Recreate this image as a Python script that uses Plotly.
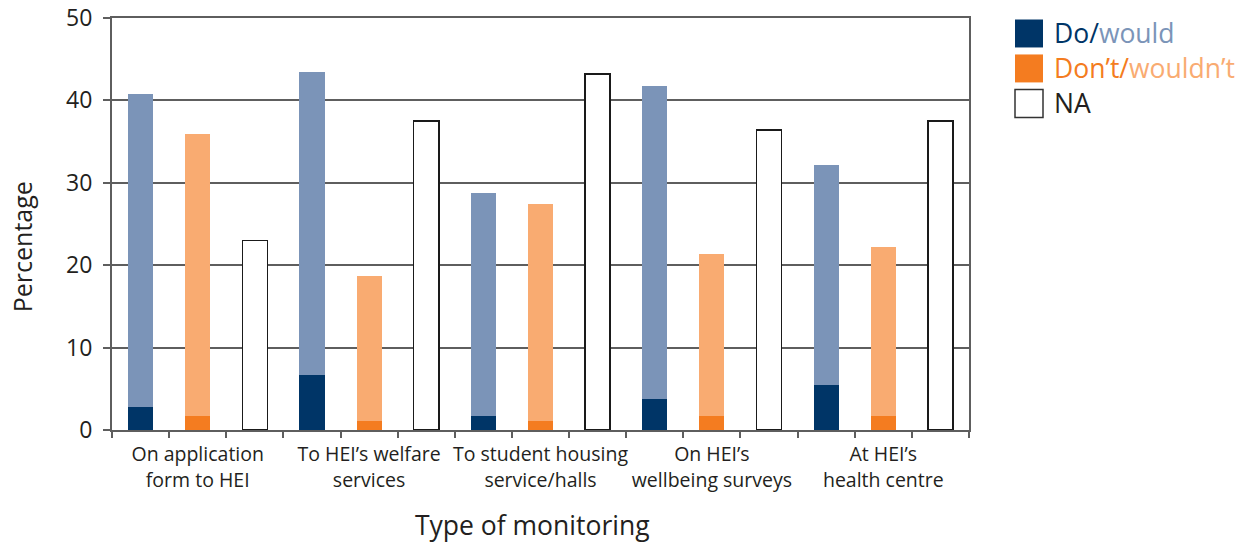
import plotly.graph_objects as go

categories = ["On application<br>form to HEI", "To HEI’s welfare<br>services", "To student housing<br>service/halls",
              "On HEI’s<br>wellbeing surveys", "At HEI’s<br>health centre"]
do_vals = [2.8, 6.7, 1.7, 3.8, 5.5]
would_vals = [38.0, 36.8, 27.1, 37.9, 26.7]
dont_vals = [1.7, 1.1, 1.1, 1.7, 1.7]
wouldnt_vals = [34.2, 17.6, 26.3, 19.6, 20.5]
na_vals = [23.0, 37.5, 43.2, 36.4, 37.5]
y_ticks = [0, 10, 20, 30, 40, 50]

C_DO = "#003567"
C_WOULD = "#7b94b8"
C_DONT = "#f47c20"
C_WOULDNT = "#f9ab71"
FONT = "Open Sans"
TXT = "#231f20"
GRID = "#5e5e5e"

n = len(categories)
x_do = [3 * i for i in range(n)]
x_dont = [3 * i + 1 for i in range(n)]
x_na = [3 * i + 2 for i in range(n)]
BW = 0.44

fig = go.Figure()
fig.add_trace(go.Bar(x=x_do, y=do_vals, width=BW, marker=dict(color=C_DO, line=dict(width=0)), showlegend=False))
fig.add_trace(go.Bar(x=x_do, y=would_vals, width=BW, marker=dict(color=C_WOULD, line=dict(width=0)), showlegend=False))
fig.add_trace(go.Bar(x=x_dont, y=dont_vals, width=BW, marker=dict(color=C_DONT, line=dict(width=0)), showlegend=False))
fig.add_trace(go.Bar(x=x_dont, y=wouldnt_vals, width=BW, marker=dict(color=C_WOULDNT, line=dict(width=0)), showlegend=False))
fig.add_trace(go.Bar(x=x_na, y=na_vals, width=BW, marker=dict(color="white", line=dict(width=1.5, color="#1a1a1a")), showlegend=False))

fig.update_layout(
    barmode="stack",
    width=1248, height=542,
    margin=dict(l=112, r=279, t=18, b=112),
    paper_bgcolor="white", plot_bgcolor="white",
    font=dict(family=FONT, color=TXT),
)
fig.update_xaxes(
    range=[-0.5, 3 * n - 0.5], automargin=False,
    tickmode="array", tickvals=[3 * i + 1 for i in range(n)], ticktext=categories,
    ticks="", showgrid=False,
    tickfont=dict(size=19.5, family=FONT, color=TXT),
    showline=True, linecolor=GRID, linewidth=2, mirror=True,
    minor=dict(tickmode="array", tickvals=[k + 0.5 for k in range(-1, 3 * n)], ticks="outside",
               ticklen=6, tickwidth=1.5, tickcolor=GRID, showgrid=False),
    zeroline=False, ticklabelstandoff=6,
)
fig.update_yaxes(
    range=[0, 50], tickmode="array", tickvals=y_ticks, automargin=False,
    ticks="outside", ticklen=7, tickwidth=1.5, tickcolor=GRID,
    tickfont=dict(size=23, family=FONT, color=TXT),
    showgrid=True, gridcolor=GRID, gridwidth=1.5,
    showline=True, linecolor=GRID, linewidth=2, mirror=True,
    zeroline=False, ticklabelstandoff=6,
)

# axis titles
fig.add_annotation(text="Type of monitoring", xref="paper", yref="paper", x=(532 - 112) / 857, y=0, yshift=-95,
                   showarrow=False, font=dict(size=26.5, family=FONT, color=TXT), xanchor="center", yanchor="middle")
fig.add_annotation(text="Percentage", xref="paper", yref="paper", x=0, xshift=-90, y=(430 - 247) / 412.5,
                   showarrow=False, textangle=-90, font=dict(size=25, family=FONT, color=TXT),
                   xanchor="center", yanchor="middle")

# legend
legend_items = [
    ("<span style='color:%s'>Do/</span><span style='color:%s'>would</span>" % (C_DO, C_WOULD), C_DO, C_DO),
    ("<span style='color:%s'>Don’t/</span><span style='color:%s'>wouldn’t</span>" % (C_DONT, C_WOULDNT), C_DONT, C_DONT),
    ("NA", "white", "#333333"),
]
for i, (label, fill, border) in enumerate(legend_items):
    top = 19 + 35 * i
    fig.add_shape(type="rect", xref="paper", yref="paper",
                  x0=(1015 - 112) / 857, x1=(1043 - 112) / 857,
                  y0=(430 - (top + 28)) / 412.5, y1=(430 - top) / 412.5,
                  fillcolor=fill, line=dict(color=border, width=1.5 if fill == "white" else 0))
    fig.add_annotation(text=label, xref="paper", yref="paper", x=(1052 - 112) / 857,
                       y=(430 - (top + 14)) / 412.5, xanchor="left", yanchor="middle",
                       showarrow=False, font=dict(size=26.5, family=FONT, color=TXT))

fig.write_html("out.html", config={"displayModeBar": False},
               post_script="document.body.style.margin='0';document.body.style.overflow='hidden';")
